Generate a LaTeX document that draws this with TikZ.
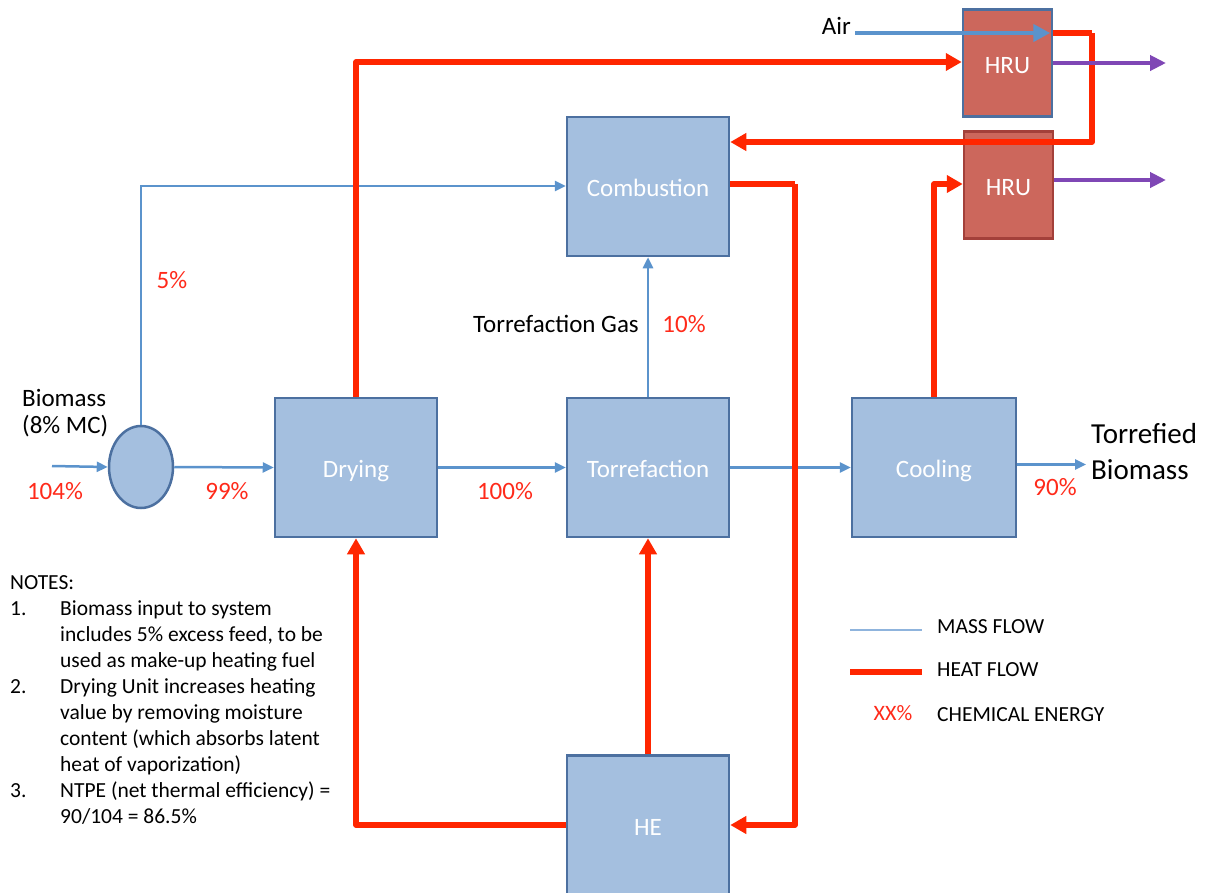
\documentclass[tikz,border=0pt]{standalone}
\usepackage{fontspec}
\setmainfont{Carlito}
\usetikzlibrary{arrows.meta,shapes.geometric}
\definecolor{boxfill}{HTML}{A4BFDF}
\definecolor{boxline}{HTML}{4C70A0}
\definecolor{massblue}{HTML}{5B93CC}
\definecolor{legblue}{HTML}{8FB4DD}
\definecolor{heatred}{HTML}{FF2600}
\definecolor{hrufill}{HTML}{CC675C}
\definecolor{hruline}{HTML}{A3403A}
\definecolor{purp}{HTML}{7F47B5}
\definecolor{pctred}{HTML}{FF2A1A}
\begin{document}
\begin{tikzpicture}[x=1pt,y=-1pt,
  unit/.style={draw=boxline, line width=2.5pt, fill=boxfill, minimum width=162pt, minimum height=139pt, inner sep=0pt, text=white, text height=20pt, text depth=0pt, font=\fontsize{25}{30}\selectfont},
  hrubox/.style={draw=boxline, line width=2.5pt, fill=hrufill, minimum width=89pt, minimum height=107pt, inner sep=0pt, text=white, text height=20pt, text depth=0pt, font=\fontsize{25}{30}\selectfont},
  splitter/.style={ellipse, draw=boxline, line width=2.5pt, fill=boxfill, minimum width=64pt, minimum height=82pt, inner sep=0pt},
  mass/.style={massblue, line width=2.5pt, -{Triangle[length=11pt,width=10pt]}},
  airflow/.style={massblue, line width=4.5pt, -{Triangle[length=17pt,width=17pt]}},
  heat/.style={heatred, line width=5.5pt, line join=round, -{Triangle[length=16pt,width=17pt]}},
  exhaust/.style={purp, line width=4.5pt, -{Triangle[length=16pt,width=15pt]}},
  pct/.style={text=pctred, font=\fontsize{25}{30}\selectfont, inner sep=0pt},
  lbl/.style={text=black, font=\fontsize{25}{30}\selectfont, inner sep=0pt},
  legtext/.style={text=black, font=\fontsize{21.5}{26}\selectfont, inner sep=0pt, anchor=west}
]
\useasboundingbox (0,0) rectangle (1207,892);

% units
\node[unit] (comb) at (648,186.5) {Combustion};
\node[unit] (dry) at (356,467.5) {Drying};
\node[unit] (torr) at (648,467.5) {Torrefaction};
\node[unit, minimum width=164pt] (cool) at (934,467.5) {Cooling};
\node[unit] (he) at (648,825) {HE};
\node[hrubox] (hru1) at (1007.5,63) {HRU};
\node[hrubox, draw=hruline] (hru2) at (1008.5,185) {HRU};
\node[splitter] (split) at (141,467) {};

% free ends
\coordinate (feed) at (52,466);
\coordinate (prod) at (1086,464.5);
\coordinate (airin) at (855,33);
\coordinate (ex1) at (1166,63);
\coordinate (ex2) at (1166,180);
\coordinate (loopx) at (1092,33);
\coordinate (combx) at (795,184);

% mass flows
\draw[mass] (feed) -- (split.west);
\draw[mass] (split.east) -- (dry.west);
\draw[mass] (split.north) |- ([yshift=0.5pt]comb.west);
\draw[mass] (dry.east) -- (torr.west);
\draw[mass] (torr.east) -- (cool.west);
\draw[mass] (torr.north) -- (comb.south);
\draw[mass] ([yshift=3pt]cool.east) -- (prod);

% heat flows
\draw[heat] (dry.north) |- ([yshift=1pt]hru1.west);
\draw[heat, -] ([yshift=30pt]hru1.east) -- (loopx);
\draw[heat] (loopx) |- ([yshift=44.5pt]comb.east);
\draw[heat, -] ([yshift=2.5pt]comb.east) -- (combx);
\draw[heat] (combx) |- (he.east);
\draw[heat] (he.north) -- (torr.south);
\draw[heat] (he.west) -| (dry.south);
\draw[heat] (cool.north) |- ([yshift=1pt]hru2.west);

% air and exhaust
\draw[airflow] (airin) -- ([yshift=30pt,xshift=-3pt]hru1.east);
\draw[exhaust] (hru1.east) -- (ex1);
\draw[exhaust] ([yshift=5pt]hru2.east) -- (ex2);

% labels
\node[lbl, anchor=west, align=left, font=\fontsize{25}{27}\selectfont] (biolbl) at (22,413) {Biomass\\(8\% MC)};
\node[lbl, anchor=east] (airlbl) at (851,26) {Air};
\node[lbl] (gaslbl) at (556,324) {Torrefaction Gas};
\node[lbl, anchor=west, align=left, font=\fontsize{29}{36}\selectfont] (prodlbl) at (1091,452) {Torrefied\\Biomass};
\node[pct] (p104) at (55,491) {104\%};
\node[pct] (p99) at (227,491) {99\%};
\node[pct] (p5) at (172,280) {5\%};
\node[pct] (p10) at (684,324) {10\%};
\node[pct] (p100) at (505,491) {100\%};
\node[pct] (p90) at (1055,487) {90\%};

% legend
\coordinate (lm1) at (850,630);
\coordinate (lm2) at (922,630);
\coordinate (lh1) at (850,672);
\coordinate (lh2) at (922,672);
\draw[legblue, line width=1.8pt] (lm1) -- (lm2);
\draw[heatred, line width=6pt] (lh1) -- (lh2);
\node[legtext] (lmass) at (937,627) {MASS FLOW};
\node[legtext] (lheat) at (937,670) {HEAT FLOW};
\node[pct, font=\fontsize{22}{26}\selectfont] (lxx) at (893,713) {XX\%};
\node[legtext] (lchem) at (937,715) {CHEMICAL ENERGY};

% notes
\node[anchor=north west, inner sep=0pt, font=\fontsize{21.5}{26}\selectfont, align=left] (notes) at (10,571) {%
\begin{tabular}{@{}p{50pt}@{}l@{}}
\multicolumn{2}{@{}l}{NOTES:}\\
1. & Biomass input to system\\
   & includes 5\% excess feed, to be\\
   & used as make-up heating fuel\\
2. & Drying Unit increases heating\\
   & value by removing moisture\\
   & content (which absorbs latent\\
   & heat of vaporization)\\
3. & NTPE (net thermal efficiency) =\\
   & 90/104 = 86.5\%
\end{tabular}};
\end{tikzpicture}
\end{document}
